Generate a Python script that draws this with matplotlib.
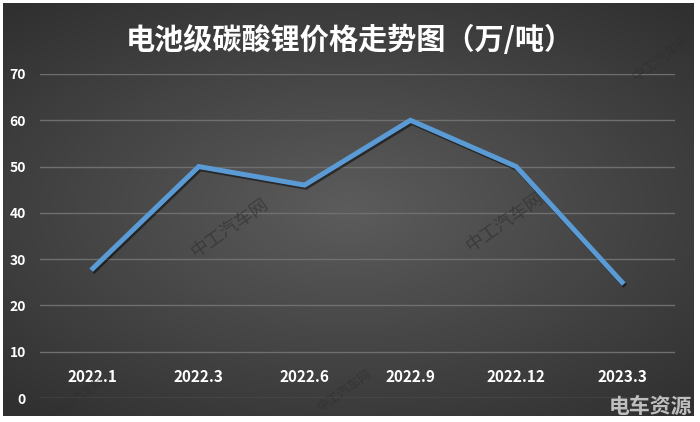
import numpy as np
import matplotlib
matplotlib.use("Agg")
import matplotlib.pyplot as plt
import matplotlib.patheffects as pe

# data
months = ["2022.1", "2022.3", "2022.6", "2022.9", "2022.12", "2023.3"]
price = [28, 50, 46, 60, 50, 25]
yticks = [0, 10, 20, 30, 40, 50, 60, 70]

plt.rcParams['font.family'] = ['Noto Sans CJK SC', 'DejaVu Sans']

fig = plt.figure(figsize=(7, 4.22), dpi=100, facecolor="white")

# dark radial background
bg = fig.add_axes([3/700, 6/422, 690/700, 413/422])
yy, xx = np.mgrid[-1:1:300j, -1:1:500j]
r = np.sqrt((xx * 0.9) ** 2 + (yy * 1.0) ** 2)
shade = 0.36 - 0.17 * np.clip(r, 0, 1.3) / 1.3
bg.imshow(np.dstack([shade] * 3), aspect="auto", extent=[0, 1, 0, 1])
bg.axis("off")

ax = fig.add_axes([40/700, 1 - 398/422, 635/700, 324/422])
ax.patch.set_alpha(0)
x = np.arange(len(months))
ax.plot(x, price, color="#5b9bd5", lw=3.6, solid_joinstyle="miter", zorder=3,
        path_effects=[pe.SimpleLineShadow(offset=(1, -1.5), shadow_color="black", alpha=0.5),
                      pe.Normal()])
ax.set_xlim(-0.5, len(months) - 0.5)
ax.set_ylim(0, 70)
ax.set_yticks(yticks)
ax.set_xticks(x)
ax.set_xticklabels(months)
ax.grid(axis="y", color="#6f6f6f", lw=1)
ax.set_axisbelow(True)
for s in ax.spines.values():
    s.set_visible(False)
ax.tick_params(axis="x", length=0, pad=-21, labelsize=11, labelcolor="white")
ax.tick_params(axis="y", length=0, pad=10, labelsize=10, labelcolor="white")
for lab in ax.get_xticklabels() + ax.get_yticklabels():
    lab.set_fontweight("bold")
    lab.set_zorder(5)

fig.text(0.5, 1 - 40/422, "电池级碳酸锂价格走势图（万/吨）", ha="center", va="center",
         color="white", fontsize=21, fontweight="bold")

# watermarks
for wx, wy, fs in [(230, 228, 13), (505, 222, 13), (662, 58, 10), (80, 396, 8), (345, 390, 9)]:
    fig.text(wx/700, 1 - wy/422, "中工汽车网", ha="center", va="center", rotation=35,
             color="#2e2e2e", fontsize=fs, alpha=0.6, zorder=0)
fig.text(650/700, 1 - 406/422, "电车资源", ha="center", va="center",
         color="#d8d8d8", fontsize=15, fontweight="bold", alpha=0.85)

fig.savefig("out.png", dpi=100, facecolor="white")
